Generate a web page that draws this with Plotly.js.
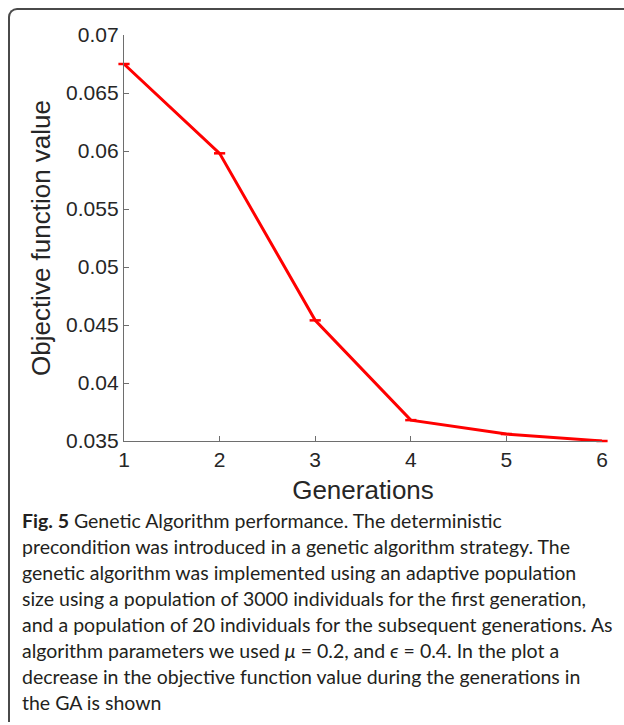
<!DOCTYPE html>
<html>
<head>
<meta charset="utf-8">
<script src="https://cdn.plot.ly/plotly-3.0.1.min.js"></script>
<style>
  html, body { margin: 0; padding: 0; background: #fff; }
  #wrap { position: relative; width: 624px; height: 725px; overflow: hidden; }
  #chart { position: absolute; left: 0; top: 0; width: 624px; height: 725px; }
  #frame { position: absolute; left: 8px; top: 8px; width: 700px; height: 714px;
           border-left: 2px solid #4a4a4a; border-top: 2px solid #4a4a4a;
           border-top-left-radius: 9px; pointer-events: none; box-sizing: border-box; }
</style>
</head>
<body>
<div id="wrap">
  <div id="chart"></div>
  <div id="frame"></div>
</div>
<script>
// ---- data ----
const generations = [1, 2, 3, 4, 5, 6];
const objectiveValues = [0.0675, 0.0598, 0.0454, 0.0368, 0.0356, 0.0350];
const xTickVals = [1, 2, 3, 4, 5, 6];
const xTickText = ['1', '2', '3', '4', '5', '6'];
const yTickVals = [0.035, 0.04, 0.045, 0.05, 0.055, 0.06, 0.065, 0.07];
const yTickText = ['0.035', '0.04', '0.045', '0.05', '0.055', '0.06', '0.065', '0.07'];
const xTitle = 'Generations';
const yTitle = 'Objective function value';
const captionLines = [
  '<b>Fig. 5</b> Genetic Algorithm performance. The deterministic',
  'precondition was introduced in a genetic algorithm strategy. The',
  'genetic algorithm was implemented using an adaptive population',
  'size using a population of 3000 individuals for the first generation,',
  'and a population of 20 individuals for the subsequent generations. As',
  'algorithm parameters we used <i>μ</i> = 0.2, and <i>ϵ</i> = 0.4. In the plot a',
  'decrease in the objective function value during the generations in',
  'the GA is shown'
];

// ---- layout ----
const W = 624, H = 725;
const margin = {l: 124, r: 22, t: 35, b: 284};
const plotH = H - margin.t - margin.b;
const captionTop = 520;      // pixel y of first caption line centre
const captionStep = 26;

const annotations = captionLines.map((txt, i) => ({
  text: txt,
  xref: 'paper', yref: 'paper',
  x: (20 - margin.l) / (W - margin.l - margin.r),
  y: 1 - ((captionTop + i * captionStep) - margin.t) / plotH,
  xanchor: 'left', yanchor: 'middle',
  showarrow: false, align: 'left',
  font: {family: 'Lato, "Open Sans", sans-serif', size: 19.5, color: '#231f20'}
}));

const axisFont = {family: 'Liberation Sans, Arial, Helvetica, sans-serif', size: 21, color: '#262626'};
const titleFont = {family: 'Liberation Sans, Arial, Helvetica, sans-serif', size: 26, color: '#262626'};

const trace = {
  x: generations,
  y: objectiveValues,
  type: 'scatter',
  mode: 'lines+markers',
  line: {color: '#ff0000', width: 3},
  marker: {symbol: 'line-ew', size: 8, color: '#ff0000', line: {color: '#ff0000', width: 2.5}},
  cliponaxis: false,
  hoverinfo: 'skip'
};

const layout = {
  width: W, height: H,
  margin: margin,
  paper_bgcolor: '#ffffff',
  plot_bgcolor: '#ffffff',
  showlegend: false,
  xaxis: {
    range: [1, 6],
    tickvals: xTickVals, ticktext: xTickText,
    ticks: 'inside', ticklen: 5, tickwidth: 1, tickcolor: '#6e6e6e',
    showline: true, linecolor: '#6e6e6e', linewidth: 1.2,
    showgrid: false, zeroline: false, mirror: false,
    tickfont: axisFont,
    title: {text: xTitle, font: titleFont, standoff: 10},
    automargin: false, fixedrange: true
  },
  yaxis: {
    range: [0.035, 0.07],
    tickvals: yTickVals, ticktext: yTickText,
    ticks: 'inside', ticklen: 5, tickwidth: 1, tickcolor: '#6e6e6e',
    showline: true, linecolor: '#6e6e6e', linewidth: 1.2,
    showgrid: false, zeroline: false, mirror: false,
    tickfont: axisFont,
    title: {text: yTitle, font: titleFont, standoff: 8},
    automargin: false, fixedrange: true
  },
  annotations: annotations
};

Plotly.newPlot('chart', [trace], layout, {displayModeBar: false, staticPlot: true});
</script>
</body>
</html>
